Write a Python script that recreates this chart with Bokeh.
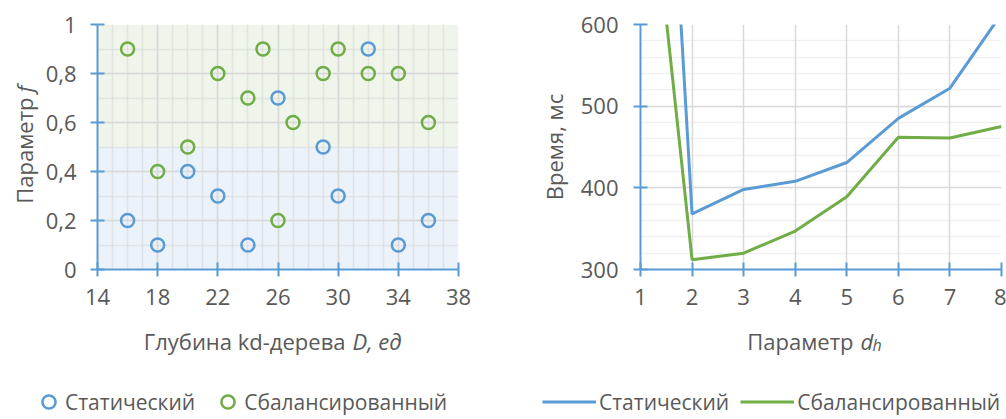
import math
from bokeh.plotting import figure
from bokeh.layouts import row, column
from bokeh.models import (FixedTicker, CustomJSTickFormatter, BoxAnnotation, Label,
                          Legend, LegendItem)
from bokeh.embed import file_html
from bokeh.resources import INLINE

# ---------------- data: left chart (scatter) ----------------
static_depth = [16, 18, 20, 22, 24, 26, 29, 30, 32, 34, 36]
static_f = [0.2, 0.1, 0.4, 0.3, 0.1, 0.7, 0.5, 0.3, 0.9, 0.1, 0.2]
balanced_depth = [16, 18, 20, 22, 24, 25, 26, 27, 29, 30, 32, 34, 36]
balanced_f = [0.9, 0.4, 0.5, 0.8, 0.7, 0.9, 0.2, 0.6, 0.8, 0.9, 0.8, 0.8, 0.6]
depth_ticks = [14, 18, 22, 26, 30, 34, 38]
f_ticks = [0, 0.2, 0.4, 0.6, 0.8, 1]
f_split = 0.5

# ---------------- data: right chart (lines) ----------------
dh = [1, 2, 3, 4, 5, 6, 7, 8]
static_time = [1450, 368, 398, 408, 431, 485, 522, 613]
balanced_time = [900, 312, 320, 347, 389, 462, 461, 475]
time_ticks = [300, 400, 500, 600]

series_names = ["Статический", "Сбалансированный"]

FONT = "Open Sans"
GRAY = "#595959"
BLUE = "#5B9BD5"
GREEN = "#70AD47"
AXIS = "#5B9BD5"
TICK_SIZE = "22px"
TITLE_SIZE = "22px"
LEGEND_SIZE = "21px"


def style_axis(ax, standoff):
    ax.axis_line_color = AXIS
    ax.axis_line_width = 2
    ax.major_tick_line_color = AXIS
    ax.major_tick_line_width = 2
    ax.major_tick_in = 7
    ax.major_tick_out = 7
    ax.minor_tick_line_color = None
    ax.major_label_text_font = FONT
    ax.major_label_text_font_size = TICK_SIZE
    ax.major_label_text_color = GRAY
    ax.major_label_standoff = standoff
    ax.axis_label_text_font = FONT
    ax.axis_label_text_font_size = TITLE_SIZE
    ax.axis_label_text_font_style = "normal"
    ax.axis_label_text_color = GRAY


def text_label(x, y, text, units="canvas", size=TITLE_SIZE, style="normal",
               align="left", angle=0.0):
    return Label(x=x, y=y, x_units=units, y_units=units, text=text,
                 text_font=FONT, text_font_size=size, text_font_style=style,
                 text_color=GRAY, text_align=align, text_baseline="middle",
                 angle=angle)


def make_legend(items, x, y, glyph_width, glyph_height, standoff, spacing):
    return Legend(items=items, orientation="horizontal", location=(x, y),
                  glyph_width=glyph_width, glyph_height=glyph_height,
                  label_standoff=standoff, spacing=spacing, padding=0, margin=0,
                  border_line_color=None, background_fill_alpha=0,
                  label_text_font=FONT, label_text_font_size=LEGEND_SIZE,
                  label_text_color=GRAY)


# ================= left figure =================
p1 = figure(frame_width=361, frame_height=245, x_range=(14, 38), y_range=(0, 1),
            output_backend="svg", toolbar_location=None,
            min_border_left=97, min_border_right=72, min_border_top=24,
            min_border_bottom=50)
p1.outline_line_color = None
p1.xaxis.ticker = FixedTicker(ticks=depth_ticks,
                              minor_ticks=list(range(depth_ticks[0], depth_ticks[-1] + 1)))
p1.yaxis.ticker = FixedTicker(ticks=f_ticks, minor_ticks=[i / 10 for i in range(11)])
p1.yaxis.formatter = CustomJSTickFormatter(
    code="return tick.toFixed(1).replace('.', ',').replace(/,0$/, '');")
style_axis(p1.xaxis[0], 12)
style_axis(p1.yaxis[0], 14)
for g in (p1.xgrid[0], p1.ygrid[0]):
    g.grid_line_color = "#D9D9D9"
    g.grid_line_width = 1.5
    g.minor_grid_line_color = "#D9D9D9"
    g.minor_grid_line_alpha = 0.6
    g.minor_grid_line_width = 1.5

p1.add_layout(BoxAnnotation(bottom=f_split, fill_color="#EFF5EA", fill_alpha=1,
                            line_color=None, level="image"))
p1.add_layout(BoxAnnotation(top=f_split, fill_color="#EBF2FA", fill_alpha=1,
                            line_color=None, level="image"))

scatter_style = dict(size=13, fill_color=None, line_width=2.5)
p1.scatter(static_depth, static_f, line_color=BLUE, **scatter_style)
p1.scatter(balanced_depth, balanced_f, line_color=GREEN, **scatter_style)

# y-axis title with italic f
p1.add_layout(text_label(23, 97, "Параметр", align="right", angle=math.pi / 2), "left")
p1.add_layout(text_label(23, 92, "f", style="italic", angle=math.pi / 2), "right")

# ================= right figure =================
p2 = figure(frame_width=361, frame_height=245, x_range=(1, 8), y_range=(300, 600),
            output_backend="svg", toolbar_location=None,
            min_border_left=110, min_border_right=5, min_border_top=24,
            min_border_bottom=50)
p2.outline_line_color = None
p2.xaxis.ticker = FixedTicker(ticks=dh)
p2.yaxis.ticker = FixedTicker(ticks=time_ticks,
                              minor_ticks=list(range(time_ticks[0], time_ticks[-1] + 1, 20)))
style_axis(p2.xaxis[0], 12)
style_axis(p2.yaxis[0], 15)
p2.yaxis.axis_label = "Время, мс"
p2.yaxis.axis_label_standoff = 9
for g in (p2.xgrid[0], p2.ygrid[0]):
    g.grid_line_color = "#D9D9D9"
    g.grid_line_width = 1.5
    g.minor_grid_line_color = "#D9D9D9"
    g.minor_grid_line_alpha = 0.4
    g.minor_grid_line_width = 1.5

p2.line(dh, static_time, line_color=BLUE, line_width=3)
p2.line(dh, balanced_time, line_color=GREEN, line_width=3)

# ================= bottom strip: x-axis titles and legends =================
pb = figure(width=1006, height=100, x_range=(0, 1), y_range=(0, 1),
            output_backend="svg", toolbar_location=None,
            x_axis_location=None, y_axis_location=None,
            min_border_left=0, min_border_right=0, min_border_top=0, min_border_bottom=0)
pb.outline_line_color = None
pb.grid.visible = False

# legend keys: the same series, drawn in this strip outside its visible range
lg_s = pb.scatter(static_depth, static_f, line_color=BLUE, **scatter_style)
lg_b = pb.scatter(balanced_depth, balanced_f, line_color=GREEN, **scatter_style)
ll_s = pb.line(dh, static_time, line_color=BLUE, line_width=3)
ll_b = pb.line(dh, balanced_time, line_color=GREEN, line_width=3)

pb.add_layout(make_legend([LegendItem(label=series_names[0], renderers=[lg_s]),
                           LegendItem(label=series_names[1], renderers=[lg_b])],
                          32, 1, 33, 33, 0, 16))
pb.add_layout(make_legend([LegendItem(label=series_names[0], renderers=[ll_s]),
                           LegendItem(label=series_names[1], renderers=[ll_b])],
                          542, 1, 54, 33, 3, 11))

# titles (screen units inside this strip: y measured from its bottom)
pb.add_layout(text_label(345, 79, "Глубина kd-дерева", units="screen", align="right"))
pb.add_layout(text_label(352, 79, "D, ед", units="screen", style="italic"))
pb.add_layout(text_label(853, 79, "Параметр", units="screen", align="right"))
pb.add_layout(text_label(860, 79, "d", units="screen", style="italic"))
pb.add_layout(text_label(872, 75, "h", units="screen", size="16px", style="italic"))

layout = column(row(p1, p2), pb)
open("out.html", "w").write(file_html(layout, INLINE))
